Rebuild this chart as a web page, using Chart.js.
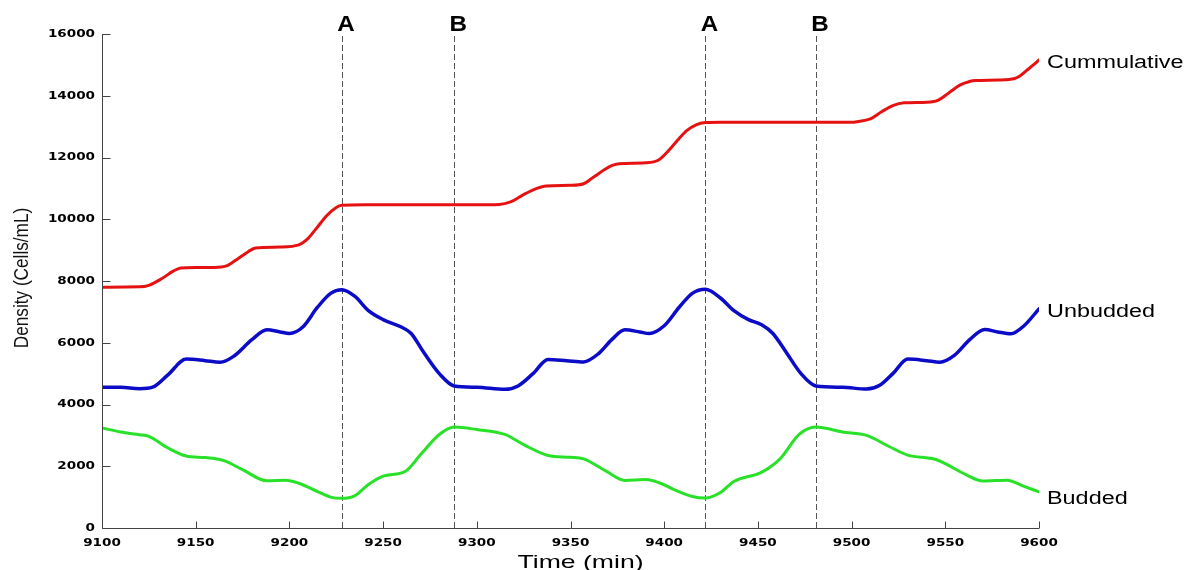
<!DOCTYPE html>
<html>
<head>
<meta charset="utf-8">
<title>Cell density</title>
<script src="https://cdn.jsdelivr.net/npm/chart.js@4.4.1/dist/chart.umd.min.js"></script>
<style>
    html, body { margin: 0; padding: 0; background: #fff; }
    #wrap { width: 1193px; height: 570px; position: relative; }
</style>
</head>
<body>
<div id="wrap"><canvas id="densityChart"></canvas></div>
<script>
// Axis ticks
const xTicks = [9100, 9150, 9200, 9250, 9300, 9350, 9400, 9450, 9500, 9550, 9600];
const yTicks = [0, 2000, 4000, 6000, 8000, 10000, 12000, 14000, 16000];

// Phase markers (dashed verticals)
const markerTimes = [9228, 9288, 9422, 9481];
const markerLabels = ['A', 'B', 'A', 'B'];

const seriesNames = ['Cummulative', 'Unbudded', 'Budded'];

// Cumulative density
const cumTimes = [9100, 9120, 9125, 9132, 9138, 9142, 9150, 9160, 9166, 9172, 9178, 9182, 9195, 9205, 9210, 9215, 9220, 9225, 9228, 9240,
    9300, 9312, 9318, 9325, 9332, 9337, 9350, 9357, 9362, 9368, 9372, 9376, 9390, 9397, 9402, 9407, 9412, 9417, 9422, 9430,
    9500, 9503, 9510, 9516, 9522, 9528, 9540, 9546, 9552, 9558, 9563, 9566, 9578, 9587, 9590, 9594, 9597, 9600];
const cumValues = [7800, 7810, 7860, 8080, 8320, 8420, 8440, 8440, 8480, 8700, 8950, 9070, 9100, 9170, 9380, 9750, 10120, 10380, 10450, 10470,
    10470, 10480, 10560, 10800, 11000, 11080, 11100, 11150, 11350, 11600, 11740, 11800, 11830, 11920, 12200, 12550, 12870, 13060, 13130, 13140,
    13140, 13160, 13250, 13480, 13680, 13770, 13790, 13850, 14100, 14350, 14460, 14490, 14510, 14560, 14650, 14850, 15000, 15160];

// Unbudded density
const unbTimes = [9100, 9110, 9120, 9127, 9135, 9145, 9155, 9163, 9170, 9180, 9188, 9195, 9200, 9207, 9215, 9222, 9228, 9235, 9242, 9250,
    9260, 9265, 9271, 9280, 9288, 9300, 9315, 9322, 9330, 9338, 9348, 9357, 9365, 9372, 9379, 9387, 9392, 9400, 9408, 9415,
    9422, 9430, 9437, 9445, 9452, 9458, 9465, 9473, 9481, 9495, 9508, 9515, 9522, 9530, 9540, 9547, 9555, 9563, 9571, 9578,
    9585, 9592, 9600];
const unbValues = [4560, 4560, 4510, 4560, 4950, 5470, 5420, 5370, 5550, 6100, 6420, 6350, 6300, 6500, 7150, 7600, 7720, 7500, 7050, 6750,
    6500, 6300, 5750, 5000, 4600, 4560, 4490, 4600, 5000, 5460, 5420, 5380, 5650, 6100, 6420, 6350, 6300, 6550, 7150, 7600,
    7730, 7450, 7050, 6750, 6580, 6300, 5700, 5000, 4600, 4560, 4500, 4620, 5000, 5470, 5420, 5370, 5600, 6100, 6430, 6350,
    6290, 6550, 7100];

// Budded density
const budTimes = [9100, 9110, 9120, 9125, 9135, 9145, 9155, 9165, 9175, 9188, 9198, 9205, 9215, 9222, 9228, 9235, 9242, 9250, 9262, 9270,
    9280, 9288, 9300, 9315, 9325, 9338, 9350, 9357, 9369, 9379, 9390, 9398, 9405, 9415, 9422, 9430, 9437, 9451, 9456, 9462,
    9472, 9481, 9495, 9508, 9520, 9530, 9545, 9561, 9570, 9583, 9592, 9600];
const budValues = [3240, 3110, 3020, 2970, 2600, 2330, 2280, 2180, 1890, 1530, 1550, 1450, 1180, 1000, 960, 1050, 1400, 1680, 1840, 2380,
    3030, 3270, 3190, 3030, 2700, 2350, 2290, 2240, 1840, 1540, 1570, 1450, 1250, 1020, 970, 1150, 1500, 1780, 1950, 2250,
    3030, 3270, 3110, 3000, 2640, 2360, 2220, 1730, 1520, 1550, 1350, 1170];

function toPoints(times, values) {
    return times.map((t, i) => ({ x: t, y: values[i] }));
}

// text drawn with a horizontal stretch, the plot's fonts are wide
function wideText(ctx, text, x, y, font, sx, align) {
    ctx.save();
    ctx.font = font;
    ctx.fillStyle = '#000';
    ctx.textAlign = align;
    ctx.textBaseline = 'middle';
    ctx.translate(x, y);
    ctx.scale(sx, 1);
    ctx.fillText(text, 0, 0);
    ctx.restore();
}

const markerPlugin = {
    id: 'phaseMarkers',
    beforeDatasetsDraw(chart) {
        const { ctx, chartArea, scales } = chart;
        ctx.save();
        ctx.strokeStyle = '#555';
        ctx.lineWidth = 1;
        ctx.setLineDash([6, 3]);
        markerTimes.forEach(t => {
            const px = Math.round(scales.x.getPixelForValue(t)) + 0.5;
            ctx.beginPath();
            ctx.moveTo(px, chartArea.top + 2);
            ctx.lineTo(px, chartArea.bottom);
            ctx.stroke();
        });
        ctx.restore();
    },
    afterDraw(chart) {
        const { ctx, chartArea, scales } = chart;
        const left = Math.round(chartArea.left) + 0.5;
        const bottom = Math.round(chartArea.bottom) + 0.5;

        // axis lines with inward ticks
        ctx.save();
        ctx.strokeStyle = '#444';
        ctx.lineWidth = 1;
        ctx.beginPath();
        ctx.moveTo(left, chartArea.top);
        ctx.lineTo(left, bottom);
        ctx.lineTo(chartArea.right, bottom);
        yTicks.forEach(v => {
            const py = Math.round(scales.y.getPixelForValue(v)) + 0.5;
            ctx.moveTo(left, py);
            ctx.lineTo(left + 8, py);
        });
        xTicks.forEach(v => {
            const px = Math.round(scales.x.getPixelForValue(v)) + 0.5;
            ctx.moveTo(px, bottom);
            ctx.lineTo(px, bottom - 7);
        });
        ctx.stroke();
        ctx.restore();

        const tickFont = 'bold 11px "DejaVu Sans"';
        yTicks.forEach(v => {
            wideText(ctx, String(v), chartArea.left - 7, scales.y.getPixelForValue(v), tickFont, 1.23, 'right');
        });
        xTicks.forEach(v => {
            wideText(ctx, String(v), scales.x.getPixelForValue(v), bottom + 15, tickFont, 1.23, 'center');
        });

        // A / B letters above the markers
        markerTimes.forEach((t, i) => {
            wideText(ctx, markerLabels[i], scales.x.getPixelForValue(t) + 4, chartArea.top - 9,
                'bold 22px "Liberation Sans"', 1.1, 'center');
        });

        // series names at the line ends
        chart.data.datasets.forEach((ds, i) => {
            const last = ds.data[ds.data.length - 1];
            const offsets = [3, 3, 7];
            wideText(ctx, seriesNames[i], chartArea.right + 8, scales.y.getPixelForValue(last.y) + offsets[i],
                '18px "Liberation Sans"', 1.3, 'left');
        });

        // axis titles
        wideText(ctx, 'Time (min)', (chartArea.left + chartArea.right) / 2 + 10, bottom + 34,
            '19px "Liberation Sans"', 1.4, 'center');
        ctx.save();
        ctx.translate(22, 278);
        ctx.rotate(-Math.PI / 2);
        ctx.scale(0.86, 1);
        ctx.font = '20px "Liberation Sans"';
        ctx.fillStyle = '#111';
        ctx.textAlign = 'center';
        ctx.textBaseline = 'middle';
        ctx.fillText('Density (Cells/mL)', 0, 0);
        ctx.restore();
    }
};

const ctxLine = document.getElementById('densityChart');

new Chart(ctxLine, {
    type: 'line',
    data: {
        datasets: [{
            label: seriesNames[0],
            data: toPoints(cumTimes, cumValues),
            borderColor: 'rgb(230, 18, 18)',
            borderWidth: 3
        }, {
            label: seriesNames[1],
            data: toPoints(unbTimes, unbValues),
            borderColor: 'rgb(12, 12, 200)',
            borderWidth: 3.5
        }, {
            label: seriesNames[2],
            data: toPoints(budTimes, budValues),
            borderColor: 'rgb(40, 225, 40)',
            borderWidth: 3
        }]
    },
    options: {
        responsive: true,
        maintainAspectRatio: false,
        animation: false,
        layout: {
            padding: { left: 94, right: 154, top: 34, bottom: 34 }
        },
        elements: {
            point: { radius: 0 },
            line: { cubicInterpolationMode: 'monotone', borderCapStyle: 'round', borderJoinStyle: 'round' }
        },
        scales: {
            x: {
                type: 'linear',
                min: 9100,
                max: 9600,
                ticks: { display: false },
                grid: { display: false },
                border: { display: false }
            },
            y: {
                min: 0,
                max: 16000,
                ticks: { display: false },
                grid: { display: false },
                border: { display: false }
            }
        },
        plugins: {
            legend: { display: false },
            tooltip: { enabled: false }
        }
    },
    plugins: [markerPlugin]
});
</script>
</body>
</html>
